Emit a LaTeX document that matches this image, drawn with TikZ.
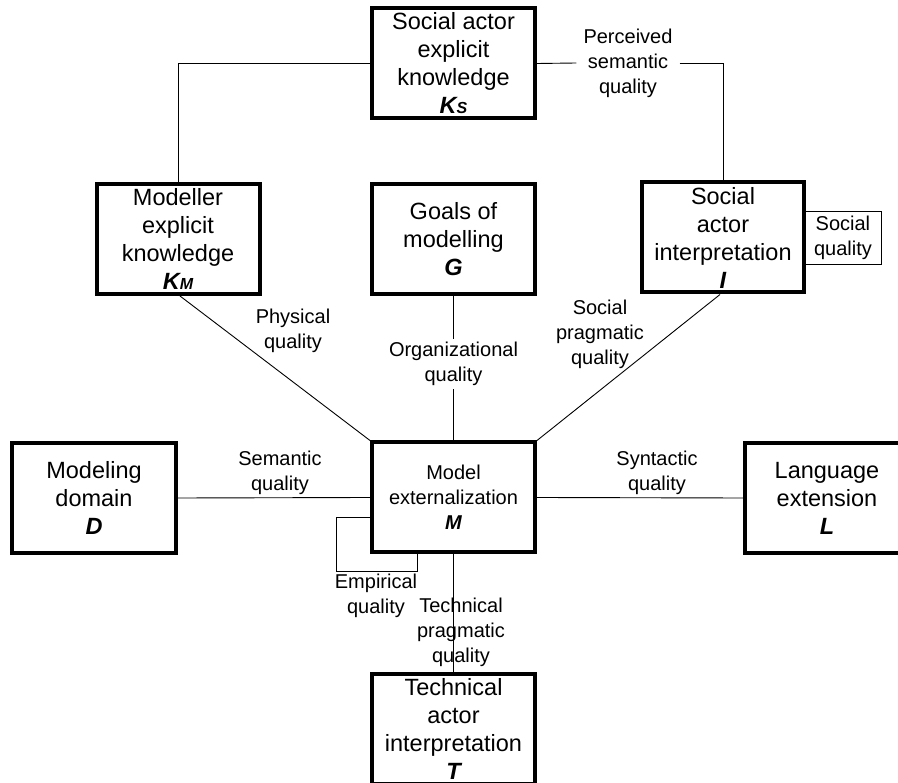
\documentclass[tikz,border=0pt]{standalone}
\usepackage{fontspec}
\setmainfont{Liberation Sans}
\begin{document}
\begin{tikzpicture}[x=1pt,y=-1pt,
  bigbox/.style={draw,line width=4pt,minimum width=163pt,minimum height=110pt,inner sep=0pt,align=center,font=\fontsize{23.5}{28}\selectfont},
  midbox/.style={bigbox,font=\fontsize{20}{25}\selectfont},
  lbl/.style={align=center,inner sep=2pt,font=\fontsize{20}{25}\selectfont},
  conn/.style={line width=0.9pt}]
\useasboundingbox (0,0) rectangle (898,783);
\newcommand{\sym}[2]{{\bfseries\itshape #1{\fontsize{16}{16}\selectfont #2}}}
% boxes
\node[bigbox] (KS) at (453.5,63.5) {Social actor\\explicit\\knowledge\\\sym{K}{S}};
\node[bigbox] (KM) at (178,239) {Modeller\\explicit\\knowledge\\\sym{K}{M}};
\node[bigbox] (G) at (453.5,239) {Goals of\\modelling\\\sym{G}{}};
\node[bigbox,minimum width=162pt] (I) at (723,237.5) {Social\\actor\\interpretation\\\sym{I}{}};
\node[bigbox,minimum width=164pt] (D) at (94,498) {Modeling\\domain\\\sym{D}{}};
\node[midbox] (M) at (453.5,497.5) {Model\\externalization\\\sym{M}{}};
\node[bigbox,minimum width=164pt] (L) at (827,498) {Language\\extension\\\sym{L}{}};
\node[bigbox] (T) at (453.5,729) {Technical\\actor\\interpretation\\\sym{T}{}};
% labels
\node[lbl,inner xsep=7pt] (PSQ) at (628,63) {Perceived\\semantic\\quality};
\node[lbl] (PQ) at (293,331) {Physical\\quality};
\node[lbl,inner ysep=3pt] (OQ) at (453.5,364) {Organizational\\quality};
\node[lbl] (SPQ) at (600,334) {Social\\pragmatic\\quality};
\node[lbl] (SemQ) at (280,473) {Semantic\\quality};
\node[lbl] (SynQ) at (657,473) {Syntactic\\quality};
\node[lbl] (EQ) at (376,596) {Empirical\\quality};
\node[lbl] (TPQ) at (461,632) {Technical\\pragmatic\\quality};
\node[draw,line width=0.9pt,minimum width=77pt,minimum height=53pt,inner sep=0pt,align=center,font=\fontsize{20}{25}\selectfont,anchor=west] (SQ) at ([xshift=-2pt]I.east) {Social\\quality};
% connectors
\draw[conn] (KS.west) -| (KM.north);
\draw[conn] (KS.east) -- (PSQ.west);
\draw[conn] (PSQ.east) -| (I.north);
\draw[conn] ([xshift=2pt]KM.south) -- (M.north west);
\draw[conn] (G.south) -- (OQ.north);
\draw[conn] (OQ.south) -- (M.north);
\draw[conn] ([xshift=-3pt]I.south) -- (M.north east);
\draw[conn] (D.east) -- (M.west);
\draw[conn] (M.east) -- (L.west);
\draw[conn] (M.south) -- (T.north);
\coordinate (E1) at (336,517);
\coordinate (E2) at (417,571);
\draw[conn] ([yshift=-19.5pt]M.west) -- (E1) |- (E2) -- ([xshift=-36.5pt]M.south);
\end{tikzpicture}
\end{document}
